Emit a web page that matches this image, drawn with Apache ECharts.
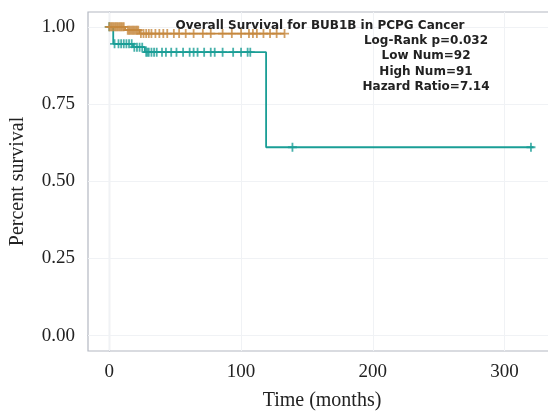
<!DOCTYPE html>
<html>
<head>
<meta charset="utf-8">
<script src="https://cdn.jsdelivr.net/npm/echarts@6/dist/echarts.min.js"></script>
<style>
  html, body { margin: 0; padding: 0; background: #fff; }
  #chart { width: 548px; height: 411px; }
</style>
</head>
<body>
<div id="chart"></div>
<script>
// Kaplan-Meier steps (months, survival)
const lowTimes = [0, 12, 23, 133];
const lowSurv = [1.0, 0.989, 0.978, 0.978];
const lowCensorTimes = [0, 1, 2, 3, 4, 5, 6, 7, 8, 9, 10, 11, 14, 15, 16, 17, 18, 19, 20, 21, 22,
  24, 26, 28, 30, 32, 35, 38, 41, 44, 49, 53, 58, 64, 71, 77, 86, 93, 100, 106, 109, 112, 117, 122, 127, 133];
const lowCensorSurv = lowCensorTimes.map(t => t < 12 ? 1.0 : (t < 23 ? 0.989 : 0.978));

const highTimes = [0, 3, 18, 27, 119, 322];
const highSurv = [1.0, 0.945, 0.934, 0.918, 0.61, 0.61];
const highCensorTimes = [0, 4, 7, 9, 11, 13, 15, 17, 19, 21, 23, 25, 28, 29, 30, 32, 34, 36, 40, 43, 47, 51,
  56, 61, 64, 67, 72, 77, 80, 86, 94, 100, 105, 107, 139, 320];
const highCensorSurv = highCensorTimes.map(t => t < 3 ? 1.0 : (t < 18 ? 0.945 : (t < 27 ? 0.934 : (t < 119 ? 0.918 : 0.61))));

const xTicks = [0, 100, 200, 300];
const yTicks = [0, 0.25, 0.5, 0.75, 1.0];

const textLines = ['Log-Rank p=0.032', 'Low Num=92', 'High Num=91', 'Hazard Ratio=7.14'];

const orange = '#C6883E';
const teal = '#1A9E96';
const plus = 'path://M4,0 H6 V4 H10 V6 H6 V10 H4 V6 H0 V4 H4 Z';

const zip = (a, b) => a.map((v, i) => [v, b[i]]);

const chart = echarts.init(document.getElementById('chart'), null, { renderer: 'canvas' });

const serif = 'Liberation Serif';

chart.setOption({
  animation: false,
  grid: {
    left: 88, top: 12, bottom: 60, right: -8,
    outerBoundsMode: 'none', containLabel: false,
    show: true, borderColor: '#B4B8C2', borderWidth: 1.2, backgroundColor: '#fff'
  },
  xAxis: {
    type: 'value', min: -16.15, max: 339,
    name: 'Time (months)', nameLocation: 'middle', nameGap: 40,
    nameTextStyle: { fontFamily: serif, fontSize: 20, color: '#222' },
    axisLine: { show: true, lineStyle: { color: '#B4B8C2', width: 1.2 } },
    axisTick: { show: true, length: 5, customValues: xTicks, lineStyle: { color: '#B4B8C2' } },
    axisLabel: { customValues: xTicks, margin: 12, fontFamily: serif, fontSize: 19, color: '#222' },
    splitLine: { show: false }
  },
  yAxis: {
    type: 'value', min: -0.05, max: 1.048,
    name: 'Percent survival', nameLocation: 'middle', nameGap: 60,
    nameTextStyle: { fontFamily: serif, fontSize: 20, color: '#222' },
    axisLine: { show: true, lineStyle: { color: '#B4B8C2', width: 1.2 } },
    axisTick: { show: true, length: 5, customValues: yTicks, lineStyle: { color: '#B4B8C2' } },
    axisLabel: {
      customValues: yTicks, margin: 13, fontFamily: serif, fontSize: 19, color: '#222',
      formatter: v => v.toFixed(2)
    },
    splitLine: { show: false }
  },
  graphic: [
    {
      type: 'text', x: 320, y: 20, z: 100,
      style: {
        text: 'Overall Survival for BUB1B in PCPG Cancer',
        font: 'bold 12px "DejaVu Sans"', fill: '#222', align: 'center'
      }
    },
    ...textLines.map((t, i) => ({
      type: 'text', x: 426, y: 35 + i * 15.3, z: 100,
      style: { text: t, font: 'bold 12px "DejaVu Sans"', fill: '#222', align: 'center' }
    }))
  ],
  series: [
    {
      type: 'line', silent: true, data: [], symbol: 'none', z: 1,
      markLine: {
        silent: true, symbol: 'none', label: { show: false }, z: 1,
        lineStyle: { color: '#F0F2F5', width: 1, type: 'solid' },
        data: xTicks.map(v => ({ xAxis: v })).concat(yTicks.map(v => ({ yAxis: v })))
      }
    },
    {
      name: 'High', type: 'line', step: 'end', data: zip(highTimes, highSurv),
      symbol: 'none', lineStyle: { color: teal, width: 1.8 }, z: 3
    },
    {
      name: 'Low', type: 'line', step: 'end', data: zip(lowTimes, lowSurv),
      symbol: 'none', lineStyle: { color: orange, width: 1.8 }, z: 4
    },
    {
      type: 'scatter', data: zip(highCensorTimes, highCensorSurv), symbol: plus, symbolSize: 9,
      itemStyle: { color: teal }, z: 3
    },
    {
      type: 'scatter', data: zip(lowCensorTimes, lowCensorSurv), symbol: plus, symbolSize: 9,
      itemStyle: { color: orange }, z: 4
    }
  ]
});
</script>
</body>
</html>
